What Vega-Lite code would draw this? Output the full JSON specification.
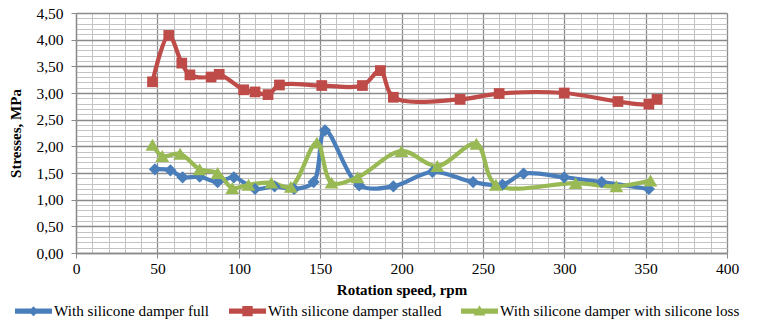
{
  "$schema": "https://vega.github.io/schema/vega-lite/v6.json",
  "width": 651,
  "height": 240,
  "autosize": {"type": "none"},
  "padding": {"left": 76, "top": 13, "right": 40, "bottom": 77},
  "background": "white",
  "config": {
    "view": {"stroke": null},
    "font": "Liberation Serif"
  },
  "data": {
    "values": [
      {"s": "With silicone damper full", "x": 48.5, "y": 1.57},
      {"s": "With silicone damper full", "x": 58, "y": 1.55},
      {"s": "With silicone damper full", "x": 65.5, "y": 1.42},
      {"s": "With silicone damper full", "x": 76, "y": 1.43},
      {"s": "With silicone damper full", "x": 87, "y": 1.33},
      {"s": "With silicone damper full", "x": 97, "y": 1.42},
      {"s": "With silicone damper full", "x": 110, "y": 1.2},
      {"s": "With silicone damper full", "x": 122, "y": 1.25},
      {"s": "With silicone damper full", "x": 134, "y": 1.2},
      {"s": "With silicone damper full", "x": 146, "y": 1.33},
      {"s": "With silicone damper full", "x": 153, "y": 2.3},
      {"s": "With silicone damper full", "x": 174, "y": 1.27},
      {"s": "With silicone damper full", "x": 195, "y": 1.25},
      {"s": "With silicone damper full", "x": 219, "y": 1.52},
      {"s": "With silicone damper full", "x": 244, "y": 1.33},
      {"s": "With silicone damper full", "x": 262, "y": 1.28},
      {"s": "With silicone damper full", "x": 275, "y": 1.49},
      {"s": "With silicone damper full", "x": 300, "y": 1.42},
      {"s": "With silicone damper full", "x": 323, "y": 1.33},
      {"s": "With silicone damper full", "x": 352, "y": 1.2},
      {"s": "With silicone damper stalled", "x": 47, "y": 3.21},
      {"s": "With silicone damper stalled", "x": 57, "y": 4.08},
      {"s": "With silicone damper stalled", "x": 65, "y": 3.56},
      {"s": "With silicone damper stalled", "x": 70, "y": 3.34},
      {"s": "With silicone damper stalled", "x": 83, "y": 3.3},
      {"s": "With silicone damper stalled", "x": 88, "y": 3.35},
      {"s": "With silicone damper stalled", "x": 103, "y": 3.06},
      {"s": "With silicone damper stalled", "x": 110, "y": 3.02},
      {"s": "With silicone damper stalled", "x": 118, "y": 2.97},
      {"s": "With silicone damper stalled", "x": 125, "y": 3.15},
      {"s": "With silicone damper stalled", "x": 151, "y": 3.14},
      {"s": "With silicone damper stalled", "x": 176, "y": 3.14},
      {"s": "With silicone damper stalled", "x": 187, "y": 3.42},
      {"s": "With silicone damper stalled", "x": 195, "y": 2.92},
      {"s": "With silicone damper stalled", "x": 236, "y": 2.88},
      {"s": "With silicone damper stalled", "x": 260, "y": 2.99},
      {"s": "With silicone damper stalled", "x": 300, "y": 3.0},
      {"s": "With silicone damper stalled", "x": 333, "y": 2.84},
      {"s": "With silicone damper stalled", "x": 352, "y": 2.79},
      {"s": "With silicone damper stalled", "x": 357, "y": 2.88},
      {"s": "With silicone damper with silicone loss", "x": 47, "y": 2.03},
      {"s": "With silicone damper with silicone loss", "x": 53, "y": 1.82},
      {"s": "With silicone damper with silicone loss", "x": 64, "y": 1.86},
      {"s": "With silicone damper with silicone loss", "x": 76, "y": 1.57},
      {"s": "With silicone damper with silicone loss", "x": 87, "y": 1.5},
      {"s": "With silicone damper with silicone loss", "x": 96, "y": 1.22},
      {"s": "With silicone damper with silicone loss", "x": 106, "y": 1.28},
      {"s": "With silicone damper with silicone loss", "x": 120, "y": 1.32},
      {"s": "With silicone damper with silicone loss", "x": 132, "y": 1.24},
      {"s": "With silicone damper with silicone loss", "x": 148, "y": 2.07},
      {"s": "With silicone damper with silicone loss", "x": 157, "y": 1.32},
      {"s": "With silicone damper with silicone loss", "x": 173, "y": 1.42},
      {"s": "With silicone damper with silicone loss", "x": 200, "y": 1.91},
      {"s": "With silicone damper with silicone loss", "x": 222, "y": 1.63},
      {"s": "With silicone damper with silicone loss", "x": 246, "y": 2.05},
      {"s": "With silicone damper with silicone loss", "x": 258, "y": 1.28},
      {"s": "With silicone damper with silicone loss", "x": 307, "y": 1.31},
      {"s": "With silicone damper with silicone loss", "x": 332, "y": 1.25},
      {"s": "With silicone damper with silicone loss", "x": 353, "y": 1.36}
    ]
  },
  "encoding": {
    "x": {
      "field": "x", "type": "quantitative",
      "scale": {"domain": [0, 400], "nice": false, "zero": false},
      "axis": {
        "orient": "bottom",
        "values": [0,10,20,30,40,50,60,70,80,90,100,110,120,130,140,150,160,170,180,190,200,210,220,230,240,250,260,270,280,290,300,310,320,330,340,350,360,370,380,390,400],
        "labelExpr": "datum.value % 50 === 0 ? datum.label : ''",
        "grid": true,
        "gridColor": {"condition": {"test": "datum.value % 50 === 0", "value": "#8a8a8a"}, "value": "#c3c3c3"},
        "gridWidth": {"condition": {"test": "datum.value % 50 === 0", "value": 1.3}, "value": 1},
        "tickOpacity": {"condition": {"test": "datum.value % 50 === 0", "value": 1}, "value": 0},
        "domainColor": "#8a8a8a", "domainWidth": 1.3, "tickColor": "#8a8a8a", "tickSize": 5,
        "labelFont": "Liberation Serif", "labelFontSize": 15.5, "labelColor": "#000", "labelPadding": 3, "labelFlush": false, "labelOverlap": false,
        "title": "Rotation speed, rpm", "titleFont": "Liberation Serif", "titleFontSize": 15, "titleFontWeight": "bold", "titleColor": "#000", "titlePadding": 6
      }
    },
    "y": {
      "field": "y", "type": "quantitative",
      "scale": {"domain": [0, 4.5], "nice": false, "zero": false},
      "axis": {
        "orient": "left",
        "values": [0,0.1,0.2,0.3,0.4,0.5,0.6,0.7,0.8,0.9,1,1.1,1.2,1.3,1.4,1.5,1.6,1.7,1.8,1.9,2,2.1,2.2,2.3,2.4,2.5,2.6,2.7,2.8,2.9,3,3.1,3.2,3.3,3.4,3.5,3.6,3.7,3.8,3.9,4,4.1,4.2,4.3,4.4,4.5],
        "labelExpr": "round(datum.value * 10) % 5 === 0 ? replace(format(datum.value, '.2f'), '.', ',') : ''",
        "grid": true,
        "gridColor": {"condition": {"test": "round(datum.value * 10) % 5 === 0", "value": "#8a8a8a"}, "value": "#c3c3c3"},
        "gridWidth": {"condition": {"test": "round(datum.value * 10) % 5 === 0", "value": 1.3}, "value": 1},
        "tickOpacity": {"condition": {"test": "round(datum.value * 10) % 5 === 0", "value": 1}, "value": 0},
        "domainColor": "#8a8a8a", "domainWidth": 1.3, "tickColor": "#8a8a8a", "tickSize": 5,
        "labelFont": "Liberation Serif", "labelFontSize": 15.5, "labelColor": "#000", "labelPadding": 8, "labelFlush": false, "labelOverlap": false,
        "title": "Stresses, MPa", "titleFont": "Liberation Serif", "titleFontSize": 15, "titleFontWeight": "bold", "titleColor": "#000", "titlePadding": 12
      }
    },
    "color": {
      "field": "s", "type": "nominal",
      "scale": {"domain": ["With silicone damper full", "With silicone damper stalled", "With silicone damper with silicone loss"], "range": ["#4a7ebb", "#be4b48", "#98b954"]},
      "legend": {
        "orient": "none", "legendX": -61, "legendY": 279.5, "direction": "horizontal", "title": null,
        "symbolSize": 1369, "symbolStrokeWidth": 0, "symbolOpacity": 1,
        "labelFont": "Liberation Serif", "labelFontSize": 15.2, "labelColor": "#000", "labelOffset": 2, "labelLimit": 400,
        "columnPadding": 19, "padding": 0,
        "encode": {
          "symbols": {
            "update": {
              "shape": {"signal": "datum.value === 'With silicone damper full' ? 'M-1,-0.14H1V0.14H-1Z M0,-0.27L0.27,0L0,0.27L-0.27,0Z' : datum.value === 'With silicone damper stalled' ? 'M-1,-0.14H1V0.14H-1Z M-0.28,-0.28H0.28V0.28H-0.28Z' : 'M-1,-0.14H1V0.14H-1Z M0,-0.32L0.32,0.24H-0.32Z'"}
            }
          }
        }
      }
    }
  },
  "layer": [
    {"mark": {"type": "line", "interpolate": "catmull-rom", "strokeWidth": 4.2}},
    {
      "transform": [{"filter": "datum.s === 'With silicone damper full'"}],
      "mark": {"type": "point", "filled": true, "opacity": 1, "size": 150, "shape": "diamond"}
    },
    {
      "transform": [{"filter": "datum.s === 'With silicone damper stalled'"}],
      "mark": {"type": "point", "filled": true, "opacity": 1, "size": 115, "shape": "square"}
    },
    {
      "transform": [{"filter": "datum.s === 'With silicone damper with silicone loss'"}],
      "mark": {"type": "point", "filled": true, "opacity": 1, "size": 190, "shape": "triangle-up"}
    }
  ]
}
